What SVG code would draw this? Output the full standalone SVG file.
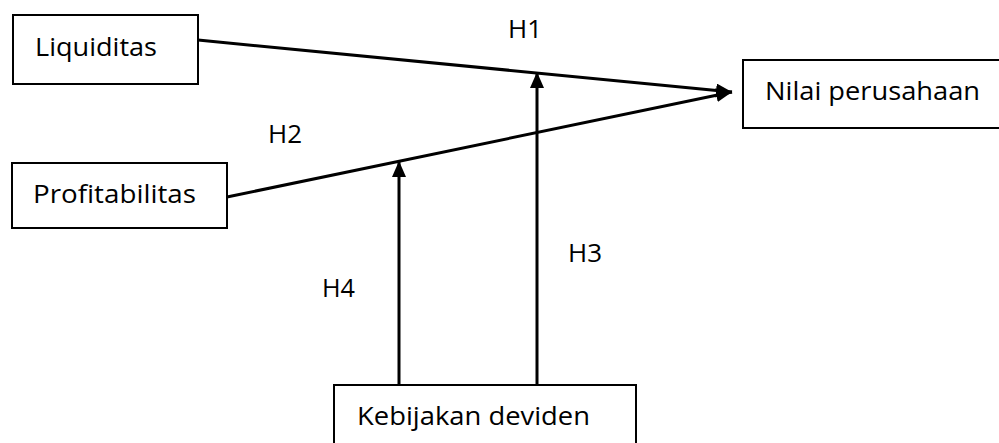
<svg xmlns="http://www.w3.org/2000/svg" width="999" height="443" viewBox="0 0 999 443">
<style>
.box{fill:#fff;stroke:#000;stroke-width:2}
.t{font-family:"Open Sans","Liberation Sans",sans-serif;font-size:26px;fill:#000}
.c{stroke:#000;stroke-width:3;fill:none}
</style>
<defs>
<marker id="ah" markerUnits="userSpaceOnUse" markerWidth="18" markerHeight="16" refX="16" refY="7" orient="auto">
<path d="M0,0 L16,7 L0,14 z" fill="#000"/>
</marker>
</defs>
<rect width="999" height="443" fill="#fff"/>
<g id="connectors">
<line class="c" x1="198" y1="40" x2="732" y2="92" marker-end="url(#ah)"/>
<line class="c" x1="227" y1="197" x2="732" y2="92" marker-end="url(#ah)"/>
<line class="c" x1="537" y1="385" x2="537" y2="72" marker-end="url(#ah)"/>
<line class="c" x1="399" y1="385" x2="399" y2="161" marker-end="url(#ah)"/>
</g>
<g id="liquiditas">
<rect class="box" x="13" y="15" width="185" height="69"/>
<text class="t" x="35" y="56" textLength="122" lengthAdjust="spacingAndGlyphs">Liquiditas</text>
</g>
<g id="profitabilitas">
<rect class="box" x="12" y="163" width="215" height="65"/>
<text class="t" x="33" y="203" textLength="163" lengthAdjust="spacingAndGlyphs">Profitabilitas</text>
</g>
<g id="nilai">
<rect class="box" x="743" y="60" width="270" height="68"/>
<text class="t" x="765" y="100" textLength="215" lengthAdjust="spacingAndGlyphs">Nilai perusahaan</text>
</g>
<g id="kebijakan">
<rect class="box" x="334" y="385" width="302" height="70"/>
<text class="t" x="357" y="425" textLength="233" lengthAdjust="spacingAndGlyphs">Kebijakan deviden</text>
</g>
<g id="labels">
<text class="t" x="508" y="38" textLength="34" lengthAdjust="spacingAndGlyphs">H1</text>
<text class="t" x="268" y="143" textLength="34" lengthAdjust="spacingAndGlyphs">H2</text>
<text class="t" x="568" y="262" textLength="34" lengthAdjust="spacingAndGlyphs">H3</text>
<text class="t" x="322" y="297" textLength="33" lengthAdjust="spacingAndGlyphs">H4</text>
</g>
</svg>
